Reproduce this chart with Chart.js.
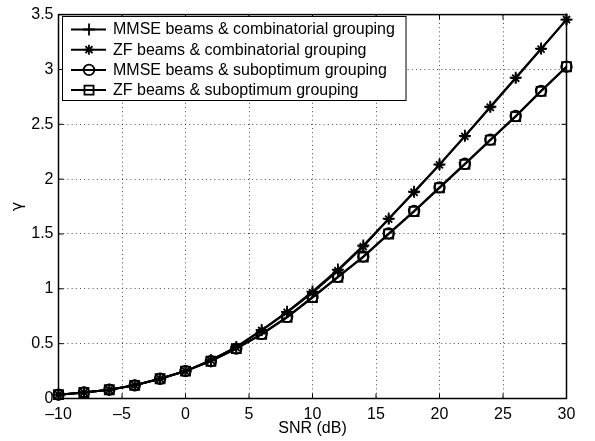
<!DOCTYPE html>
<html>
<head>
<meta charset="utf-8">
<script src="https://cdn.jsdelivr.net/npm/chart.js@4.4.0/dist/chart.umd.min.js"></script>
<style>
  html, body { margin: 0; padding: 0; background: #fff; }
  #wrap { width: 595px; height: 441px; }
</style>
</head>
<body>
<div id="wrap"><canvas id="grafico" width="595" height="441"></canvas></div>
<script>
// Datos
const snr = [-10, -8, -6, -4, -2, 0, 2, 4, 6, 8, 10, 12, 14, 16, 18, 20, 22, 24, 26, 28, 30];
const mmseComb = [0.035, 0.055, 0.08, 0.12, 0.18, 0.25, 0.35, 0.47, 0.625, 0.79, 0.975, 1.175, 1.395, 1.64, 1.885, 2.135, 2.395, 2.66, 2.925, 3.19, 3.455];
const zfComb   = [0.035, 0.055, 0.08, 0.12, 0.18, 0.25, 0.35, 0.465, 0.62, 0.785, 0.965, 1.165, 1.385, 1.635, 1.88, 2.13, 2.39, 2.655, 2.92, 3.185, 3.455];
const mmseSub  = [0.035, 0.055, 0.08, 0.12, 0.18, 0.25, 0.34, 0.455, 0.59, 0.745, 0.925, 1.11, 1.295, 1.505, 1.71, 1.925, 2.14, 2.36, 2.575, 2.805, 3.025];
const zfSub    = [0.035, 0.055, 0.08, 0.12, 0.18, 0.25, 0.34, 0.455, 0.585, 0.74, 0.92, 1.105, 1.29, 1.5, 1.705, 1.92, 2.135, 2.355, 2.57, 2.8, 3.025];
const seriesNames = ['MMSE beams & combinatorial grouping', 'ZF beams & combinatorial grouping',
                     'MMSE beams & suboptimum grouping', 'ZF beams & suboptimum grouping'];
const xTicks = [-10, -5, 0, 5, 10, 15, 20, 25, 30];
const xTickLabels = ['\u201310', '\u20135', '0', '5', '10', '15', '20', '25', '30'];
const yTicks = [0, 0.5, 1, 1.5, 2, 2.5, 3, 3.5];
const yTickLabels = ['0', '0.5', '1', '1.5', '2', '2.5', '3', '3.5'];

const fuente = 'Liberation Sans, Arial, Helvetica, sans-serif';

function serie(valores, nombre, estilo, radio, orden) {
    return {
        label: nombre,
        data: snr.map((x, i) => ({ x: x, y: valores[i] })),
        borderColor: '#000', borderWidth: 2,
        pointStyle: estilo, pointRadius: radio,
        pointBorderColor: '#000', pointBackgroundColor: 'rgba(0,0,0,0)', pointBorderWidth: 1.8,
        tension: 0, clip: false, order: orden
    };
}

// Dibuja un marcador como los de MATLAB (sin relleno).
function marcador(ctx, estilo, r, x, y) {
    ctx.beginPath();
    if (estilo === 'cross' || estilo === 'star') {
        ctx.moveTo(x - r, y); ctx.lineTo(x + r, y);
        ctx.moveTo(x, y - r); ctx.lineTo(x, y + r);
    }
    if (estilo === 'star') {
        const d = r * Math.SQRT1_2;
        ctx.moveTo(x - d, y - d); ctx.lineTo(x + d, y + d);
        ctx.moveTo(x - d, y + d); ctx.lineTo(x + d, y - d);
    }
    if (estilo === 'circle') { ctx.arc(x, y, r, 0, Math.PI * 2); }
    if (estilo === 'rect') { const s = r * Math.SQRT1_2; ctx.rect(x - s, y - s, 2 * s, 2 * s); }
    ctx.stroke();
}

// Marco y marcas hacia dentro, al estilo MATLAB.
const marco = {
    id: 'marco',
    beforeDatasetsDraw(chart) {
        const ctx = chart.ctx, a = chart.chartArea;
        const sx = chart.scales.x, sy = chart.scales.y;
        ctx.save();
        ctx.strokeStyle = '#000';
        ctx.lineWidth = 1.5;
        ctx.strokeRect(a.left, a.top, a.right - a.left, a.bottom - a.top);
        ctx.lineWidth = 1;
        ctx.beginPath();
        xTicks.forEach(v => {
            const px = sx.getPixelForValue(v);
            ctx.moveTo(px, a.bottom); ctx.lineTo(px, a.bottom - 5);
            ctx.moveTo(px, a.top); ctx.lineTo(px, a.top + 5);
        });
        yTicks.forEach(v => {
            const py = sy.getPixelForValue(v);
            ctx.moveTo(a.left, py); ctx.lineTo(a.left + 5, py);
            ctx.moveTo(a.right, py); ctx.lineTo(a.right - 5, py);
        });
        ctx.stroke();
        ctx.restore();
    }
};

// Leyenda en recuadro dentro del área del gráfico.
const leyenda = {
    id: 'leyenda',
    afterDraw(chart) {
        const ctx = chart.ctx;
        ctx.save();
        ctx.fillStyle = '#fff';
        ctx.fillRect(62.5, 16.5, 343.5, 84);
        ctx.strokeStyle = '#000';
        ctx.lineWidth = 1;
        ctx.strokeRect(62.5, 16.5, 343.5, 84);
        ctx.font = '16px ' + fuente;
        ctx.textBaseline = 'middle';
        ctx.fillStyle = '#000';
        chart.data.datasets.forEach((ds, i) => {
            const y = 29.5 + i * 20.2;
            ctx.lineWidth = 2;
            ctx.beginPath(); ctx.moveTo(71, y); ctx.lineTo(106, y); ctx.stroke();
            ctx.lineWidth = 1.8;
            marcador(ctx, ds.pointStyle, ds.pointRadius, 89, y);
            ctx.fillText(ds.label, 113, y + 0.5);
        });
        ctx.restore();
    }
};

Chart.defaults.font.family = fuente;
Chart.defaults.font.size = 16;
Chart.defaults.color = '#000';

new Chart(document.getElementById('grafico').getContext('2d'), {
    type: 'line',
    data: {
        datasets: [
            serie(mmseComb, seriesNames[0], 'cross', 6, 4),
            serie(zfComb, seriesNames[1], 'star', 5, 3),
            serie(mmseSub, seriesNames[2], 'circle', 5.3, 2),
            serie(zfSub, seriesNames[3], 'rect', 6.4, 1)
        ]
    },
    options: {
        responsive: false, animation: false, devicePixelRatio: 1,
        layout: { padding: { left: 0, right: 28.5, top: 11.5, bottom: 0 } },
        plugins: { legend: { display: false }, tooltip: { enabled: false } },
        scales: {
            x: {
                type: 'linear', min: -10, max: 30,
                afterBuildTicks: s => { s.ticks = xTicks.map(v => ({ value: v })); },
                afterFit: s => { s.height = 42.5; },
                ticks: { padding: 6, maxRotation: 0, autoSkip: false,
                         callback: v => xTickLabels[xTicks.indexOf(v)] },
                grid: { drawTicks: false, color: 'rgba(0,0,0,0.7)', lineWidth: 1 },
                border: { display: false, dash: [1, 3.2] },
                title: { display: true, text: 'SNR (dB)', padding: { top: 0, bottom: 3 } }
            },
            y: {
                min: 0, max: 3.5,
                afterBuildTicks: s => { s.ticks = yTicks.map(v => ({ value: v })); },
                afterFit: s => { s.width = 58.5; },
                ticks: { padding: 5, autoSkip: false,
                         callback: v => yTickLabels[yTicks.indexOf(v)] },
                grid: { drawTicks: false, color: 'rgba(0,0,0,0.7)', lineWidth: 1 },
                border: { display: false, dash: [1, 3.2] },
                title: { display: true, text: '\u03b3', padding: { top: 8.5, bottom: 0 },
                         font: { family: 'DejaVu Sans, sans-serif', size: 16 } }
            }
        }
    },
    plugins: [marco, leyenda]
});
</script>
</body>
</html>
